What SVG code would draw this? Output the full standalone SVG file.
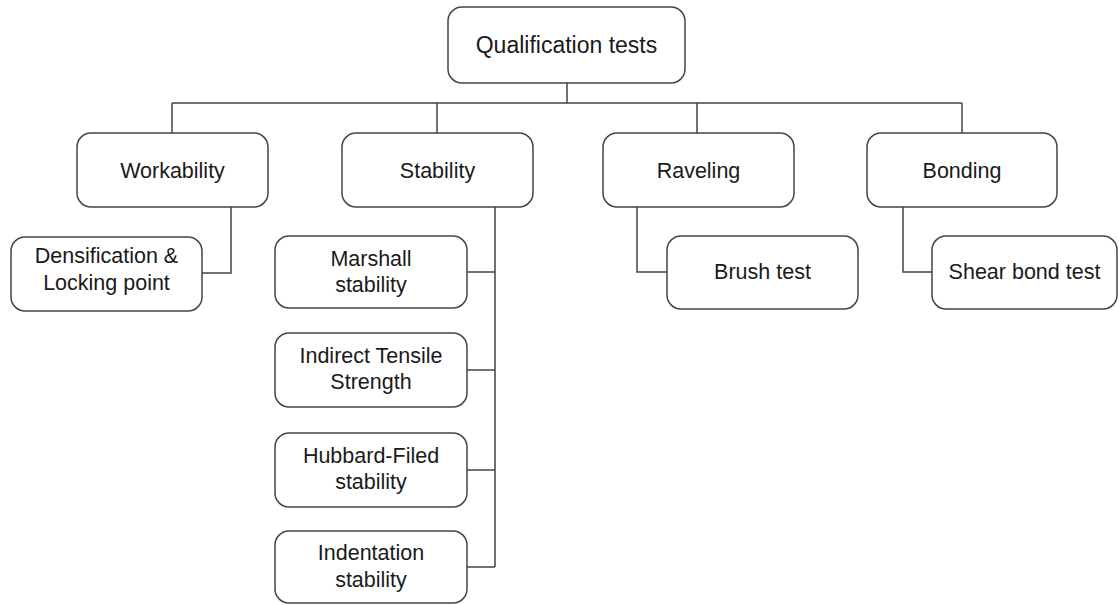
<svg xmlns="http://www.w3.org/2000/svg" width="1119" height="605" viewBox="0 0 1119 605">
<style>
.box{fill:#fff;stroke:#444;stroke-width:1.5}
.c{fill:none;stroke:#444;stroke-width:1.5}
text{font-family:"Liberation Sans",Arial,sans-serif;font-size:21.5px;fill:#1a1a1a;text-anchor:middle}
</style>
<rect width="1119" height="605" fill="#fff"/>
<g id="connectors">
<path class="c" d="M567 83V103M172 103H962M172 103V133M437 103V133M697 103V133M962 103V133"/>
<path class="c" d="M231 207V273H202"/>
<path class="c" d="M495 207V567M467 272H495M467 370H495M467 470H495M467 567H495"/>
<path class="c" d="M637 207V272H667"/>
<path class="c" d="M903 207V272H932"/>
</g>
<g id="n-qual"><rect class="box" x="448" y="7" width="237" height="76" rx="14"/><text x="566.5" y="53" style="font-size:23px">Qualification tests</text></g>
<g id="n-work"><rect class="box" x="77" y="133" width="191" height="74" rx="14"/><text x="172.5" y="178">Workability</text></g>
<g id="n-stab"><rect class="box" x="342" y="133" width="191" height="74" rx="14"/><text x="437.5" y="178">Stability</text></g>
<g id="n-ravel"><rect class="box" x="603" y="133" width="191" height="74" rx="14"/><text x="698.5" y="178">Raveling</text></g>
<g id="n-bond"><rect class="box" x="867" y="133" width="190" height="74" rx="14"/><text x="962" y="178">Bonding</text></g>
<g id="n-dens"><rect class="box" x="11" y="237" width="191" height="74" rx="14"/><text x="106.5" y="263">Densification &amp;</text><text x="106.5" y="290">Locking point</text></g>
<g id="n-marsh"><rect class="box" x="275" y="236" width="192" height="72" rx="14"/><text x="371" y="266">Marshall</text><text x="371" y="292">stability</text></g>
<g id="n-its"><rect class="box" x="275" y="333" width="192" height="74" rx="14"/><text x="371" y="363">Indirect Tensile</text><text x="371" y="389">Strength</text></g>
<g id="n-hub"><rect class="box" x="275" y="433" width="192" height="74" rx="14"/><text x="371" y="463">Hubbard-Filed</text><text x="371" y="489">stability</text></g>
<g id="n-ind"><rect class="box" x="275" y="531" width="192" height="72" rx="14"/><text x="371" y="560">Indentation</text><text x="371" y="587">stability</text></g>
<g id="n-brush"><rect class="box" x="667" y="236" width="191" height="73" rx="14"/><text x="762.5" y="279">Brush test</text></g>
<g id="n-shear"><rect class="box" x="932" y="236" width="185" height="73" rx="14"/><text x="1024.5" y="279">Shear bond test</text></g>
</svg>
